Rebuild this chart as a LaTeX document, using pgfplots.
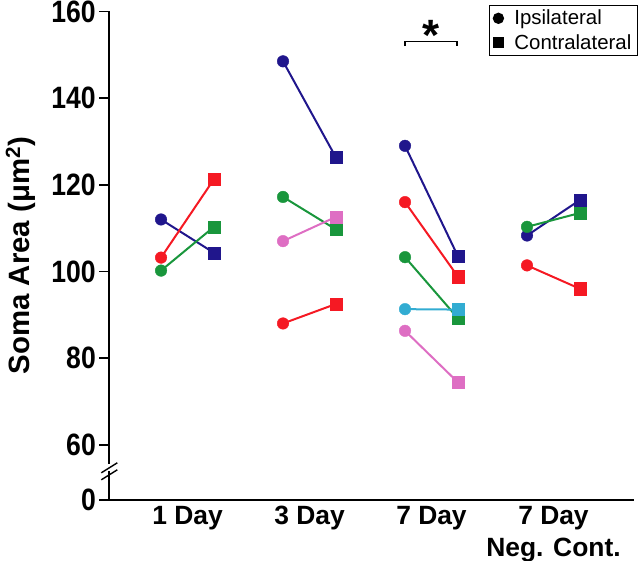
\documentclass[border=0pt]{standalone}
\usepackage{fontspec}
\setmainfont{Liberation Sans}
\newfontfamily\condfont[FakeStretch=0.86]{Liberation Sans}
\usepackage{pgfplots}
\pgfplotsset{compat=1.18}

\definecolor{cnavy}{RGB}{32,22,140}
\definecolor{cred}{RGB}{245,25,35}
\definecolor{cgreen}{RGB}{25,150,60}
\definecolor{cpink}{RGB}{222,110,195}
\definecolor{ccyan}{RGB}{50,172,210}

\newcommand\yfont{\condfont\fontsize{31}{31}\selectfont\bfseries}
\newcommand\xfont{\fontsize{26.5}{32}\selectfont\bfseries}
\newcommand\ylabfont{\fontsize{29.5}{29.5}\selectfont\bfseries}
\newcommand\legfont{\fontsize{20.5}{24}\selectfont}

% one animal: ipsilateral (circle) -> contralateral (square)
\newcommand\pair[5]{%
  \addplot[#1, line width=2bp, mark=none, forget plot] coordinates {(#2,#3) (#4,#5)};
  \addplot[#1, only marks, mark=*, mark size=5.8bp, forget plot] coordinates {(#2,#3)};
  \addplot[#1, only marks, mark=square*, mark size=6.1bp, forget plot] coordinates {(#4,#5)};
}

\begin{document}
\begin{tikzpicture}
\path[use as bounding box] (-109.3bp,-61.2bp) rectangle (530.7bp,499.8bp);
\begin{axis}[
  at={(0,0)}, anchor=south west,
  scale only axis, width=524.7bp, height=488.3bp,
  xmin=0.359, xmax=4.66, ymin=47.3, ymax=160,
  axis x line*=bottom, axis y line*=left,
  axis line style={line width=1.6bp, black},
  xtick={1,2,3,4},
  xticklabels={1 Day,3 Day,7 Day,{7 Day\\Neg. Cont.}},
  xtick align=inside,
  x tick style={draw=none},
  xticklabel style={font=\xfont, align=center, yshift=-3bp},
  ytick={47.3,60,80,100,120,140,160},
  yticklabels={0,60,80,100,120,140,160},
  ytick align=outside,
  major tick length=10bp,
  y tick style={line width=1.6bp, black},
  yticklabel style={font=\yfont},
  /pgf/number format/assume math mode=true,
  every axis y label/.style={at={([xshift=-88.8bp]axis description cs:0,0.5)}, rotate=90, anchor=center, font=\ylabfont},
  ylabel={Soma Area (μm\textsuperscript{2})},
  clip=false,
  legend style={at={(rel axis cs:1.0076,1.0143)}, anchor=north east, draw=black, line width=1.3bp,
    font=\legfont, inner xsep=4bp, inner ysep=3bp, row sep=4bp,
    cells={anchor=west},
    /tikz/every odd column/.append style={column sep=9bp}},
  legend image code/.code={\draw[#1] plot coordinates {(5bp,0bp)};},
]
\addlegendimage{black, only marks, mark=*, mark size=5bp}
\addlegendentry{Ipsilateral}
\addlegendimage{black, only marks, mark=square*, mark size=4.6bp}
\addlegendentry{Contralateral}

% 1 Day
\pair{cnavy}{0.783}{112.0}{1.217}{104.3}
\pair{cgreen}{0.783}{100.2}{1.217}{110.3}
\pair{cred}{0.783}{103.2}{1.217}{121.3}
% 3 Day
\pair{cnavy}{1.783}{148.5}{2.217}{126.3}
\pair{cgreen}{1.783}{117.2}{2.217}{109.7}
\pair{cred}{1.783}{88.0}{2.217}{92.5}
\pair{cpink}{1.783}{107.0}{2.217}{112.6}
% 7 Day
\pair{cnavy}{2.783}{129.0}{3.217}{103.5}
\pair{cgreen}{2.783}{103.3}{3.217}{89.2}
\pair{cred}{2.783}{116.0}{3.217}{98.8}
\pair{cpink}{2.783}{86.3}{3.217}{74.4}
\pair{ccyan}{2.783}{91.3}{3.217}{91.2}
% 7 Day Neg. Cont.
\pair{cnavy}{3.783}{108.3}{4.217}{116.5}
\pair{cgreen}{3.783}{110.3}{4.217}{113.5}
\pair{cred}{3.783}{101.4}{4.217}{96.0}

% significance bracket
\draw[line width=1.4bp] (axis cs:2.783,152.0) -- (axis cs:2.783,153.1) -- (axis cs:3.209,153.1) -- (axis cs:3.209,152.0);
\node[anchor=base, font=\fontsize{44}{44}\selectfont\bfseries, inner sep=0pt] at (axis cs:2.996,151.0) {*};
\end{axis}
% axis break
\fill[white] (-2bp,29bp) rectangle (2bp,35.5bp);
\draw[line width=1.4bp] (-8bp,27bp) -- (8bp,37bp);
\draw[line width=1.4bp] (-8bp,20bp) -- (8bp,30bp);
\end{tikzpicture}
\end{document}
